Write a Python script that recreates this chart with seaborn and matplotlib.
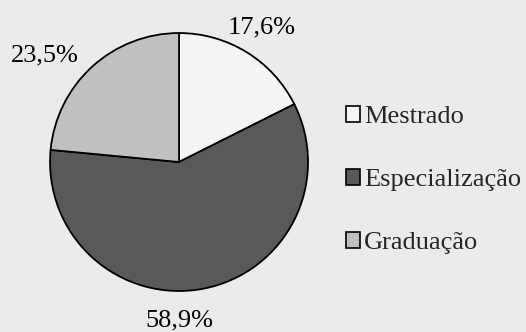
import matplotlib
matplotlib.use("Agg")
import matplotlib.pyplot as plt
import numpy as np
import seaborn as sns

categories = ["Mestrado", "Especialização", "Graduação"]
values = [17.6, 58.9, 23.5]
value_labels = ["17,6%", "58,9%", "23,5%"]

colors = ["#f4f4f4", "#595959", "#c0c0c0"]
# label placement (angle in degrees, radius relative to pie radius)
label_pos = [(58.5, 1.223), (-90.0, 1.225), (141.6, 1.33)]

sns.set_theme(style="white")
plt.rcParams["font.family"] = ["Liberation Serif", "DejaVu Serif"]

bg = "#ebebeb"
fs = 19
fig = plt.figure(figsize=(5.26, 3.32), dpi=100, facecolor=bg)
ax = fig.add_axes([0.0951, 0.1235, 0.4905, 0.777])
ax.set_facecolor("none")

wedges, _ = ax.pie(values, colors=colors, startangle=90, counterclock=False,
                   wedgeprops=dict(edgecolor="black", linewidth=1.3))
ax.set_xlim(-1, 1)
ax.set_ylim(-1, 1)
ax.set_aspect("equal")

for txt, (ang, r) in zip(value_labels, label_pos):
    a = np.deg2rad(ang)
    ax.text(r * np.cos(a), r * np.sin(a), txt, ha="center", va="center",
            fontsize=fs, color="black", clip_on=False)

leg = fig.legend(wedges, categories, loc="upper left", bbox_to_anchor=(0.658, 0.68),
                 frameon=False, fontsize=fs, handlelength=0.53, handleheight=0.53,
                 handletextpad=0.15, labelspacing=1.55, borderpad=0, borderaxespad=0)
for h in leg.legend_handles:
    h.set_linewidth(1.2)
    h.set_edgecolor("black")

fig.savefig("out.png", dpi=100, facecolor=bg)
